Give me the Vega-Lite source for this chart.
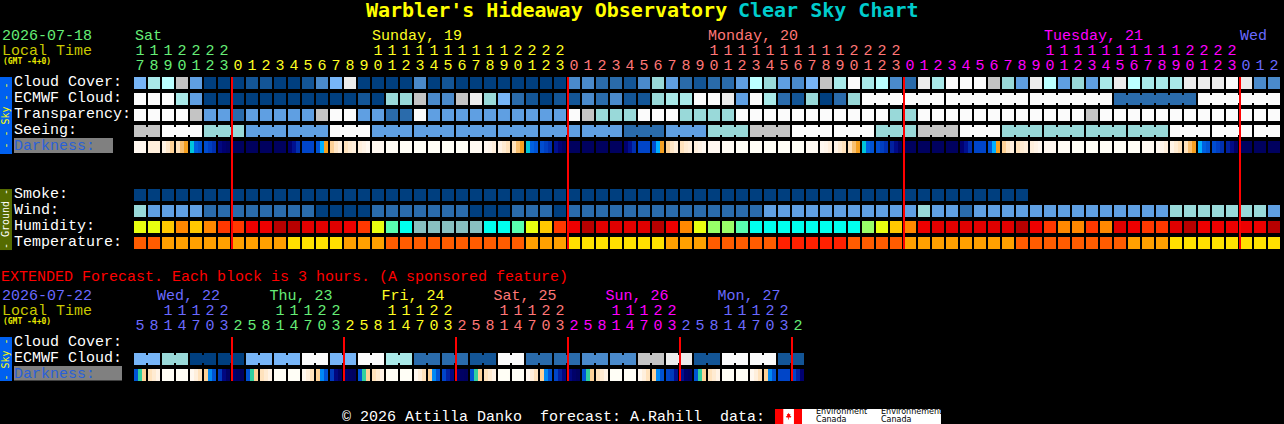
{"$schema":"https://vega.github.io/schema/vega-lite/v6.json","width":1284,"height":424,"padding":0,"autosize":{"type":"fit","contains":"padding"},"background":"#000000","config":{"view":{"stroke":null}},
"datasets":{
"panels":[{"a":-10,"b":-9.143,"r":-0.375,"r2":4.4375,"c":"sky"},{"a":-10,"b":-9.143,"r":6.625,"r2":10.44,"c":"ground"},{"a":-10,"b":-9.143,"r":15.875,"r2":18.625,"c":"sky"},{"a":-9,"b":-1.929,"r":3.4375,"r2":4.375,"c":"grey"},{"a":-9,"b":-1.286,"r":17.69,"r2":18.6,"c":"grey"},{"a":45.357,"b":57.214,"r":20.375,"r2":21.3125,"c":"paper"},{"a":45.357,"b":45.95,"r":20.375,"r2":21.3125,"c":"flag"},{"a":46.71,"b":47.286,"r":20.375,"r2":21.3125,"c":"flag"}],
"links":[{"a":0,"b":1,"r":3,"v":"J"},{"a":2,"b":4,"r":3,"v":"L"},{"a":5,"b":7,"r":3,"v":"G"},{"a":8,"b":10,"r":3,"v":"E"},{"a":11,"b":13,"r":3,"v":"E"},{"a":14,"b":16,"r":3,"v":"L"},{"a":17,"b":19,"r":3,"v":"E"},{"a":20,"b":22,"r":3,"v":"E"},{"a":23,"b":25,"r":3,"v":"E"},{"a":26,"b":28,"r":3,"v":"E"},{"a":29,"b":31,"r":3,"v":"E"},{"a":32,"b":34,"r":3,"v":"E"},{"a":35,"b":37,"r":3,"v":"C"},{"a":38,"b":40,"r":3,"v":"E"},{"a":41,"b":43,"r":3,"v":"G"},{"a":44,"b":46,"r":3,"v":"J"},{"a":47,"b":49,"r":3,"v":"L"},{"a":50,"b":52,"r":3,"v":"L"},{"a":53,"b":55,"r":3,"v":"G"},{"a":56,"b":58,"r":3,"v":"J"},{"a":59,"b":61,"r":3,"v":"L"},{"a":62,"b":64,"r":3,"v":"G"},{"a":65,"b":67,"r":3,"v":"G"},{"a":68,"b":70,"r":3,"v":"G"},{"a":71,"b":73,"r":3,"v":"G"},{"a":74,"b":76,"r":3,"v":"L"},{"a":77,"b":79,"r":3,"v":"L"},{"a":80,"b":81,"r":3,"v":"L"},{"a":52,"b":57,"r":1,"v":"L"},{"a":58,"b":63,"r":1,"v":"L"},{"a":64,"b":69,"r":1,"v":"L"},{"a":70,"b":75,"r":1,"v":"C"},{"a":76,"b":81,"r":1,"v":"L"},{"a":0,"b":1,"r":17.25,"v":"F"},{"a":2,"b":3,"r":17.25,"v":"G"},{"a":4,"b":5,"r":17.25,"v":"A"},{"a":6,"b":7,"r":17.25,"v":"A"},{"a":8,"b":9,"r":17.25,"v":"F"},{"a":10,"b":11,"r":17.25,"v":"F"},{"a":12,"b":13,"r":17.25,"v":"L"},{"a":14,"b":15,"r":17.25,"v":"F"},{"a":16,"b":17,"r":17.25,"v":"L"},{"a":18,"b":19,"r":17.25,"v":"H"},{"a":20,"b":21,"r":17.25,"v":"C"},{"a":22,"b":23,"r":17.25,"v":"C"},{"a":24,"b":25,"r":17.25,"v":"B"},{"a":26,"b":27,"r":17.25,"v":"L"},{"a":28,"b":29,"r":17.25,"v":"C"},{"a":30,"b":31,"r":17.25,"v":"C"},{"a":32,"b":33,"r":17.25,"v":"D"},{"a":34,"b":35,"r":17.25,"v":"D"},{"a":36,"b":37,"r":17.25,"v":"J"},{"a":38,"b":39,"r":17.25,"v":"K"},{"a":40,"b":41,"r":17.25,"v":"B"},{"a":42,"b":43,"r":17.25,"v":"L"},{"a":44,"b":45,"r":17.25,"v":"L"},{"a":46,"b":47,"r":17.25,"v":"B"}],
"blocks":[
{"s":0,"r":0,"v":"F"},{"s":1,"r":0,"v":"H"},{"s":2,"r":0,"v":"I"},{"s":3,"r":0,"v":"J"},{"s":4,"r":0,"v":"E"},{"s":5,"r":0,"v":"A"},{"s":6,"r":0,"v":"A"},{"s":7,"r":0,"v":"A"},{"s":8,"r":0,"v":"B"},{"s":9,"r":0,"v":"B"},{"s":10,"r":0,"v":"A"},{"s":11,"r":0,"v":"A"},{"s":12,"r":0,"v":"B"},{"s":13,"r":0,"v":"D"},{"s":14,"r":0,"v":"F"},{"s":15,"r":0,"v":"K"},{"s":16,"r":0,"v":"A"},{"s":17,"r":0,"v":"A"},{"s":18,"r":0,"v":"A"},{"s":19,"r":0,"v":"A"},{"s":20,"r":0,"v":"D"},{"s":21,"r":0,"v":"A"},{"s":22,"r":0,"v":"B"},{"s":23,"r":0,"v":"A"},{"s":24,"r":0,"v":"A"},{"s":25,"r":0,"v":"A"},{"s":26,"r":0,"v":"A"},{"s":27,"r":0,"v":"A"},{"s":28,"r":0,"v":"A"},{"s":29,"r":0,"v":"A"},{"s":30,"r":0,"v":"A"},{"s":31,"r":0,"v":"D"},{"s":32,"r":0,"v":"D"},{"s":33,"r":0,"v":"C"},{"s":34,"r":0,"v":"C"},{"s":35,"r":0,"v":"B"},{"s":36,"r":0,"v":"D"},{"s":37,"r":0,"v":"G"},{"s":38,"r":0,"v":"E"},{"s":39,"r":0,"v":"C"},{"s":40,"r":0,"v":"B"},{"s":41,"r":0,"v":"C"},{"s":42,"r":0,"v":"C"},{"s":43,"r":0,"v":"E"},{"s":44,"r":0,"v":"I"},{"s":45,"r":0,"v":"G"},{"s":46,"r":0,"v":"E"},{"s":47,"r":0,"v":"D"},{"s":48,"r":0,"v":"F"},{"s":49,"r":0,"v":"J"},{"s":50,"r":0,"v":"H"},{"s":51,"r":0,"v":"L"},{"s":52,"r":0,"v":"H"},{"s":53,"r":0,"v":"I"},{"s":54,"r":0,"v":"D"},{"s":55,"r":0,"v":"C"},{"s":56,"r":0,"v":"K"},{"s":57,"r":0,"v":"H"},{"s":58,"r":0,"v":"L"},{"s":59,"r":0,"v":"L"},{"s":60,"r":0,"v":"L"},{"s":61,"r":0,"v":"J"},{"s":62,"r":0,"v":"G"},{"s":63,"r":0,"v":"E"},{"s":64,"r":0,"v":"K"},{"s":65,"r":0,"v":"I"},{"s":66,"r":0,"v":"E"},{"s":67,"r":0,"v":"G"},{"s":68,"r":0,"v":"E"},{"s":69,"r":0,"v":"H"},{"s":70,"r":0,"v":"K"},{"s":71,"r":0,"v":"I"},{"s":72,"r":0,"v":"H"},{"s":73,"r":0,"v":"H"},{"s":74,"r":0,"v":"H"},{"s":75,"r":0,"v":"K"},{"s":76,"r":0,"v":"K"},{"s":77,"r":0,"v":"K"},{"s":78,"r":0,"v":"L"},{"s":79,"r":0,"v":"K"},{"s":80,"r":0,"v":"D"},{"s":81,"r":0,"v":"D"},
{"s":0,"r":1,"v":"L"},{"s":1,"r":1,"v":"L"},{"s":2,"r":1,"v":"L"},{"s":3,"r":1,"v":"H"},{"s":4,"r":1,"v":"E"},{"s":5,"r":1,"v":"A"},{"s":6,"r":1,"v":"A"},{"s":7,"r":1,"v":"A"},{"s":8,"r":1,"v":"A"},{"s":9,"r":1,"v":"A"},{"s":10,"r":1,"v":"A"},{"s":11,"r":1,"v":"A"},{"s":12,"r":1,"v":"A"},{"s":13,"r":1,"v":"A"},{"s":14,"r":1,"v":"A"},{"s":15,"r":1,"v":"A"},{"s":16,"r":1,"v":"B"},{"s":17,"r":1,"v":"A"},{"s":18,"r":1,"v":"G"},{"s":19,"r":1,"v":"G"},{"s":20,"r":1,"v":"J"},{"s":21,"r":1,"v":"D"},{"s":22,"r":1,"v":"D"},{"s":23,"r":1,"v":"J"},{"s":24,"r":1,"v":"K"},{"s":25,"r":1,"v":"G"},{"s":26,"r":1,"v":"F"},{"s":27,"r":1,"v":"C"},{"s":28,"r":1,"v":"B"},{"s":29,"r":1,"v":"A"},{"s":30,"r":1,"v":"B"},{"s":31,"r":1,"v":"B"},{"s":32,"r":1,"v":"D"},{"s":33,"r":1,"v":"C"},{"s":34,"r":1,"v":"D"},{"s":35,"r":1,"v":"B"},{"s":36,"r":1,"v":"B"},{"s":37,"r":1,"v":"G"},{"s":38,"r":1,"v":"H"},{"s":39,"r":1,"v":"H"},{"s":40,"r":1,"v":"L"},{"s":41,"r":1,"v":"L"},{"s":42,"r":1,"v":"K"},{"s":43,"r":1,"v":"E"},{"s":44,"r":1,"v":"L"},{"s":45,"r":1,"v":"H"},{"s":46,"r":1,"v":"C"},{"s":47,"r":1,"v":"B"},{"s":48,"r":1,"v":"G"},{"s":49,"r":1,"v":"A"},{"s":50,"r":1,"v":"C"},{"s":51,"r":1,"v":"G"},{"s":52,"r":1,"v":"L"},{"s":53,"r":1,"v":"L"},{"s":54,"r":1,"v":"L"},{"s":55,"r":1,"v":"L"},{"s":56,"r":1,"v":"L"},{"s":57,"r":1,"v":"L"},{"s":58,"r":1,"v":"L"},{"s":59,"r":1,"v":"L"},{"s":60,"r":1,"v":"L"},{"s":61,"r":1,"v":"L"},{"s":62,"r":1,"v":"L"},{"s":63,"r":1,"v":"L"},{"s":64,"r":1,"v":"L"},{"s":65,"r":1,"v":"L"},{"s":66,"r":1,"v":"L"},{"s":67,"r":1,"v":"L"},{"s":68,"r":1,"v":"L"},{"s":69,"r":1,"v":"L"},{"s":70,"r":1,"v":"C"},{"s":71,"r":1,"v":"C"},{"s":72,"r":1,"v":"C"},{"s":73,"r":1,"v":"C"},{"s":74,"r":1,"v":"C"},{"s":75,"r":1,"v":"C"},{"s":76,"r":1,"v":"L"},{"s":77,"r":1,"v":"L"},{"s":78,"r":1,"v":"L"},{"s":79,"r":1,"v":"L"},{"s":80,"r":1,"v":"L"},{"s":81,"r":1,"v":"L"},
{"s":0,"r":2,"v":"L"},{"s":1,"r":2,"v":"L"},{"s":2,"r":2,"v":"L"},{"s":3,"r":2,"v":"L"},{"s":4,"r":2,"v":"J"},{"s":5,"r":2,"v":"E"},{"s":6,"r":2,"v":"E"},{"s":7,"r":2,"v":"C"},{"s":8,"r":2,"v":"E"},{"s":9,"r":2,"v":"E"},{"s":10,"r":2,"v":"E"},{"s":11,"r":2,"v":"E"},{"s":12,"r":2,"v":"E"},{"s":13,"r":2,"v":"J"},{"s":14,"r":2,"v":"L"},{"s":15,"r":2,"v":"L"},{"s":16,"r":2,"v":"E"},{"s":17,"r":2,"v":"E"},{"s":18,"r":2,"v":"C"},{"s":19,"r":2,"v":"C"},{"s":20,"r":2,"v":"L"},{"s":21,"r":2,"v":"E"},{"s":22,"r":2,"v":"E"},{"s":23,"r":2,"v":"E"},{"s":24,"r":2,"v":"E"},{"s":25,"r":2,"v":"E"},{"s":26,"r":2,"v":"E"},{"s":27,"r":2,"v":"E"},{"s":28,"r":2,"v":"E"},{"s":29,"r":2,"v":"E"},{"s":30,"r":2,"v":"E"},{"s":31,"r":2,"v":"L"},{"s":32,"r":2,"v":"J"},{"s":33,"r":2,"v":"G"},{"s":34,"r":2,"v":"G"},{"s":35,"r":2,"v":"G"},{"s":36,"r":2,"v":"L"},{"s":37,"r":2,"v":"L"},{"s":38,"r":2,"v":"L"},{"s":39,"r":2,"v":"G"},{"s":40,"r":2,"v":"G"},{"s":41,"r":2,"v":"G"},{"s":42,"r":2,"v":"G"},{"s":43,"r":2,"v":"L"},{"s":44,"r":2,"v":"L"},{"s":45,"r":2,"v":"L"},{"s":46,"r":2,"v":"L"},{"s":47,"r":2,"v":"L"},{"s":48,"r":2,"v":"L"},{"s":49,"r":2,"v":"L"},{"s":50,"r":2,"v":"L"},{"s":51,"r":2,"v":"L"},{"s":52,"r":2,"v":"L"},{"s":53,"r":2,"v":"L"},{"s":54,"r":2,"v":"G"},{"s":55,"r":2,"v":"G"},{"s":56,"r":2,"v":"L"},{"s":57,"r":2,"v":"L"},{"s":58,"r":2,"v":"L"},{"s":59,"r":2,"v":"L"},{"s":60,"r":2,"v":"L"},{"s":61,"r":2,"v":"L"},{"s":62,"r":2,"v":"L"},{"s":63,"r":2,"v":"L"},{"s":64,"r":2,"v":"L"},{"s":65,"r":2,"v":"L"},{"s":66,"r":2,"v":"L"},{"s":67,"r":2,"v":"L"},{"s":68,"r":2,"v":"J"},{"s":69,"r":2,"v":"L"},{"s":70,"r":2,"v":"L"},{"s":71,"r":2,"v":"L"},{"s":72,"r":2,"v":"L"},{"s":73,"r":2,"v":"L"},{"s":74,"r":2,"v":"L"},{"s":75,"r":2,"v":"L"},{"s":76,"r":2,"v":"L"},{"s":77,"r":2,"v":"L"},{"s":78,"r":2,"v":"L"},{"s":79,"r":2,"v":"L"},{"s":80,"r":2,"v":"L"},{"s":81,"r":2,"v":"L"},
{"s":0,"r":3,"v":"J"},{"s":1,"r":3,"v":"J"},{"s":2,"r":3,"v":"L"},{"s":3,"r":3,"v":"L"},{"s":4,"r":3,"v":"L"},{"s":5,"r":3,"v":"G"},{"s":6,"r":3,"v":"G"},{"s":7,"r":3,"v":"G"},{"s":8,"r":3,"v":"E"},{"s":9,"r":3,"v":"E"},{"s":10,"r":3,"v":"E"},{"s":11,"r":3,"v":"E"},{"s":12,"r":3,"v":"E"},{"s":13,"r":3,"v":"E"},{"s":14,"r":3,"v":"L"},{"s":15,"r":3,"v":"L"},{"s":16,"r":3,"v":"L"},{"s":17,"r":3,"v":"E"},{"s":18,"r":3,"v":"E"},{"s":19,"r":3,"v":"E"},{"s":20,"r":3,"v":"E"},{"s":21,"r":3,"v":"E"},{"s":22,"r":3,"v":"E"},{"s":23,"r":3,"v":"E"},{"s":24,"r":3,"v":"E"},{"s":25,"r":3,"v":"E"},{"s":26,"r":3,"v":"E"},{"s":27,"r":3,"v":"E"},{"s":28,"r":3,"v":"E"},{"s":29,"r":3,"v":"E"},{"s":30,"r":3,"v":"E"},{"s":31,"r":3,"v":"E"},{"s":32,"r":3,"v":"E"},{"s":33,"r":3,"v":"E"},{"s":34,"r":3,"v":"E"},{"s":35,"r":3,"v":"C"},{"s":36,"r":3,"v":"C"},{"s":37,"r":3,"v":"C"},{"s":38,"r":3,"v":"E"},{"s":39,"r":3,"v":"E"},{"s":40,"r":3,"v":"E"},{"s":41,"r":3,"v":"G"},{"s":42,"r":3,"v":"G"},{"s":43,"r":3,"v":"G"},{"s":44,"r":3,"v":"J"},{"s":45,"r":3,"v":"J"},{"s":46,"r":3,"v":"J"},{"s":47,"r":3,"v":"L"},{"s":48,"r":3,"v":"L"},{"s":49,"r":3,"v":"L"},{"s":50,"r":3,"v":"L"},{"s":51,"r":3,"v":"L"},{"s":52,"r":3,"v":"L"},{"s":53,"r":3,"v":"G"},{"s":54,"r":3,"v":"G"},{"s":55,"r":3,"v":"G"},{"s":56,"r":3,"v":"J"},{"s":57,"r":3,"v":"J"},{"s":58,"r":3,"v":"J"},{"s":59,"r":3,"v":"L"},{"s":60,"r":3,"v":"L"},{"s":61,"r":3,"v":"L"},{"s":62,"r":3,"v":"G"},{"s":63,"r":3,"v":"G"},{"s":64,"r":3,"v":"G"},{"s":65,"r":3,"v":"G"},{"s":66,"r":3,"v":"G"},{"s":67,"r":3,"v":"G"},{"s":68,"r":3,"v":"G"},{"s":69,"r":3,"v":"G"},{"s":70,"r":3,"v":"G"},{"s":71,"r":3,"v":"G"},{"s":72,"r":3,"v":"G"},{"s":73,"r":3,"v":"G"},{"s":74,"r":3,"v":"L"},{"s":75,"r":3,"v":"L"},{"s":76,"r":3,"v":"L"},{"s":77,"r":3,"v":"L"},{"s":78,"r":3,"v":"L"},{"s":79,"r":3,"v":"L"},{"s":80,"r":3,"v":"L"},{"s":81,"r":3,"v":"L"},
{"s":0,"r":7,"v":"A"},{"s":1,"r":7,"v":"A"},{"s":2,"r":7,"v":"A"},{"s":3,"r":7,"v":"A"},{"s":4,"r":7,"v":"A"},{"s":5,"r":7,"v":"A"},{"s":6,"r":7,"v":"A"},{"s":7,"r":7,"v":"A"},{"s":8,"r":7,"v":"A"},{"s":9,"r":7,"v":"A"},{"s":10,"r":7,"v":"A"},{"s":11,"r":7,"v":"A"},{"s":12,"r":7,"v":"A"},{"s":13,"r":7,"v":"A"},{"s":14,"r":7,"v":"A"},{"s":15,"r":7,"v":"A"},{"s":16,"r":7,"v":"A"},{"s":17,"r":7,"v":"A"},{"s":18,"r":7,"v":"A"},{"s":19,"r":7,"v":"A"},{"s":20,"r":7,"v":"A"},{"s":21,"r":7,"v":"A"},{"s":22,"r":7,"v":"A"},{"s":23,"r":7,"v":"A"},{"s":24,"r":7,"v":"A"},{"s":25,"r":7,"v":"A"},{"s":26,"r":7,"v":"A"},{"s":27,"r":7,"v":"A"},{"s":28,"r":7,"v":"A"},{"s":29,"r":7,"v":"A"},{"s":30,"r":7,"v":"A"},{"s":31,"r":7,"v":"A"},{"s":32,"r":7,"v":"A"},{"s":33,"r":7,"v":"A"},{"s":34,"r":7,"v":"A"},{"s":35,"r":7,"v":"A"},{"s":36,"r":7,"v":"A"},{"s":37,"r":7,"v":"A"},{"s":38,"r":7,"v":"A"},{"s":39,"r":7,"v":"A"},{"s":40,"r":7,"v":"A"},{"s":41,"r":7,"v":"A"},{"s":42,"r":7,"v":"A"},{"s":43,"r":7,"v":"A"},{"s":44,"r":7,"v":"A"},{"s":45,"r":7,"v":"A"},{"s":46,"r":7,"v":"A"},{"s":47,"r":7,"v":"A"},{"s":48,"r":7,"v":"A"},{"s":49,"r":7,"v":"A"},{"s":50,"r":7,"v":"A"},{"s":51,"r":7,"v":"A"},{"s":52,"r":7,"v":"A"},{"s":53,"r":7,"v":"A"},{"s":54,"r":7,"v":"A"},{"s":55,"r":7,"v":"A"},{"s":56,"r":7,"v":"A"},{"s":57,"r":7,"v":"A"},{"s":58,"r":7,"v":"A"},{"s":59,"r":7,"v":"A"},{"s":60,"r":7,"v":"A"},{"s":61,"r":7,"v":"A"},{"s":62,"r":7,"v":"A"},{"s":63,"r":7,"v":"A"},
{"s":0,"r":8,"v":"G"},{"s":1,"r":8,"v":"E"},{"s":2,"r":8,"v":"E"},{"s":3,"r":8,"v":"E"},{"s":4,"r":8,"v":"E"},{"s":5,"r":8,"v":"C"},{"s":6,"r":8,"v":"C"},{"s":7,"r":8,"v":"C"},{"s":8,"r":8,"v":"C"},{"s":9,"r":8,"v":"C"},{"s":10,"r":8,"v":"C"},{"s":11,"r":8,"v":"C"},{"s":12,"r":8,"v":"C"},{"s":13,"r":8,"v":"A"},{"s":14,"r":8,"v":"A"},{"s":15,"r":8,"v":"A"},{"s":16,"r":8,"v":"A"},{"s":17,"r":8,"v":"C"},{"s":18,"r":8,"v":"C"},{"s":19,"r":8,"v":"C"},{"s":20,"r":8,"v":"C"},{"s":21,"r":8,"v":"C"},{"s":22,"r":8,"v":"C"},{"s":23,"r":8,"v":"C"},{"s":24,"r":8,"v":"A"},{"s":25,"r":8,"v":"A"},{"s":26,"r":8,"v":"A"},{"s":27,"r":8,"v":"C"},{"s":28,"r":8,"v":"C"},{"s":29,"r":8,"v":"C"},{"s":30,"r":8,"v":"A"},{"s":31,"r":8,"v":"C"},{"s":32,"r":8,"v":"C"},{"s":33,"r":8,"v":"C"},{"s":34,"r":8,"v":"C"},{"s":35,"r":8,"v":"C"},{"s":36,"r":8,"v":"C"},{"s":37,"r":8,"v":"C"},{"s":38,"r":8,"v":"C"},{"s":39,"r":8,"v":"C"},{"s":40,"r":8,"v":"C"},{"s":41,"r":8,"v":"C"},{"s":42,"r":8,"v":"C"},{"s":43,"r":8,"v":"C"},{"s":44,"r":8,"v":"C"},{"s":45,"r":8,"v":"E"},{"s":46,"r":8,"v":"E"},{"s":47,"r":8,"v":"E"},{"s":48,"r":8,"v":"E"},{"s":49,"r":8,"v":"E"},{"s":50,"r":8,"v":"E"},{"s":51,"r":8,"v":"E"},{"s":52,"r":8,"v":"E"},{"s":53,"r":8,"v":"E"},{"s":54,"r":8,"v":"E"},{"s":55,"r":8,"v":"E"},{"s":56,"r":8,"v":"G"},{"s":57,"r":8,"v":"E"},{"s":58,"r":8,"v":"E"},{"s":59,"r":8,"v":"C"},{"s":60,"r":8,"v":"E"},{"s":61,"r":8,"v":"E"},{"s":62,"r":8,"v":"E"},{"s":63,"r":8,"v":"E"},{"s":64,"r":8,"v":"E"},{"s":65,"r":8,"v":"E"},{"s":66,"r":8,"v":"E"},{"s":67,"r":8,"v":"E"},{"s":68,"r":8,"v":"E"},{"s":69,"r":8,"v":"E"},{"s":70,"r":8,"v":"E"},{"s":71,"r":8,"v":"E"},{"s":72,"r":8,"v":"E"},{"s":73,"r":8,"v":"E"},{"s":74,"r":8,"v":"G"},{"s":75,"r":8,"v":"G"},{"s":76,"r":8,"v":"G"},{"s":77,"r":8,"v":"G"},{"s":78,"r":8,"v":"G"},{"s":79,"r":8,"v":"G"},{"s":80,"r":8,"v":"G"},{"s":81,"r":8,"v":"E"},
{"s":0,"r":9,"v":"yl"},{"s":1,"r":9,"v":"yl"},{"s":2,"r":9,"v":"gd"},{"s":3,"r":9,"v":"or"},{"s":4,"r":9,"v":"gd"},{"s":5,"r":9,"v":"or"},{"s":6,"r":9,"v":"ro"},{"s":7,"r":9,"v":"ro"},{"s":8,"r":9,"v":"r1"},{"s":9,"r":9,"v":"r1"},{"s":10,"r":9,"v":"dr"},{"s":11,"r":9,"v":"dr"},{"s":12,"r":9,"v":"r2"},{"s":13,"r":9,"v":"r2"},{"s":14,"r":9,"v":"r2"},{"s":15,"r":9,"v":"r1"},{"s":16,"r":9,"v":"ro"},{"s":17,"r":9,"v":"yl"},{"s":18,"r":9,"v":"mg"},{"s":19,"r":9,"v":"cy"},{"s":20,"r":9,"v":"gt"},{"s":21,"r":9,"v":"gt"},{"s":22,"r":9,"v":"gt"},{"s":23,"r":9,"v":"gt"},{"s":24,"r":9,"v":"gt"},{"s":25,"r":9,"v":"cy"},{"s":26,"r":9,"v":"cy"},{"s":27,"r":9,"v":"mg"},{"s":28,"r":9,"v":"yl"},{"s":29,"r":9,"v":"gd"},{"s":30,"r":9,"v":"ro"},{"s":31,"r":9,"v":"r1"},{"s":32,"r":9,"v":"dr"},{"s":33,"r":9,"v":"r2"},{"s":34,"r":9,"v":"r2"},{"s":35,"r":9,"v":"r2"},{"s":36,"r":9,"v":"r2"},{"s":37,"r":9,"v":"dr"},{"s":38,"r":9,"v":"r1"},{"s":39,"r":9,"v":"or"},{"s":40,"r":9,"v":"yl"},{"s":41,"r":9,"v":"lg"},{"s":42,"r":9,"v":"lg"},{"s":43,"r":9,"v":"mg"},{"s":44,"r":9,"v":"cy"},{"s":45,"r":9,"v":"cy"},{"s":46,"r":9,"v":"cy"},{"s":47,"r":9,"v":"cy"},{"s":48,"r":9,"v":"cy"},{"s":49,"r":9,"v":"cy"},{"s":50,"r":9,"v":"cy"},{"s":51,"r":9,"v":"cy"},{"s":52,"r":9,"v":"lg"},{"s":53,"r":9,"v":"yl"},{"s":54,"r":9,"v":"gd"},{"s":55,"r":9,"v":"or"},{"s":56,"r":9,"v":"r1"},{"s":57,"r":9,"v":"r2"},{"s":58,"r":9,"v":"r2"},{"s":59,"r":9,"v":"r2"},{"s":60,"r":9,"v":"r2"},{"s":61,"r":9,"v":"r2"},{"s":62,"r":9,"v":"r2"},{"s":63,"r":9,"v":"dr"},{"s":64,"r":9,"v":"r1"},{"s":65,"r":9,"v":"ro"},{"s":66,"r":9,"v":"or"},{"s":67,"r":9,"v":"or"},{"s":68,"r":9,"v":"ro"},{"s":69,"r":9,"v":"or"},{"s":70,"r":9,"v":"r2"},{"s":71,"r":9,"v":"r1"},{"s":72,"r":9,"v":"ro"},{"s":73,"r":9,"v":"ro"},{"s":74,"r":9,"v":"r2"},{"s":75,"r":9,"v":"dr"},{"s":76,"r":9,"v":"r1"},{"s":77,"r":9,"v":"r1"},{"s":78,"r":9,"v":"r1"},{"s":79,"r":9,"v":"r1"},{"s":80,"r":9,"v":"r1"},{"s":81,"r":9,"v":"dr"},
{"s":0,"r":10,"v":"t1"},{"s":1,"r":10,"v":"t1"},{"s":2,"r":10,"v":"t2"},{"s":3,"r":10,"v":"t2"},{"s":4,"r":10,"v":"t2"},{"s":5,"r":10,"v":"t2"},{"s":6,"r":10,"v":"t2"},{"s":7,"r":10,"v":"t2"},{"s":8,"r":10,"v":"t2"},{"s":9,"r":10,"v":"t2"},{"s":10,"r":10,"v":"t2"},{"s":11,"r":10,"v":"t3"},{"s":12,"r":10,"v":"t3"},{"s":13,"r":10,"v":"t3"},{"s":14,"r":10,"v":"t3"},{"s":15,"r":10,"v":"t2"},{"s":16,"r":10,"v":"t2"},{"s":17,"r":10,"v":"t2"},{"s":18,"r":10,"v":"t1"},{"s":19,"r":10,"v":"t1"},{"s":20,"r":10,"v":"t1"},{"s":21,"r":10,"v":"t1"},{"s":22,"r":10,"v":"t1"},{"s":23,"r":10,"v":"t1"},{"s":24,"r":10,"v":"t1"},{"s":25,"r":10,"v":"t1"},{"s":26,"r":10,"v":"t1"},{"s":27,"r":10,"v":"t1"},{"s":28,"r":10,"v":"t2"},{"s":29,"r":10,"v":"t2"},{"s":30,"r":10,"v":"t2"},{"s":31,"r":10,"v":"t3"},{"s":32,"r":10,"v":"t3"},{"s":33,"r":10,"v":"t3"},{"s":34,"r":10,"v":"t3"},{"s":35,"r":10,"v":"t3"},{"s":36,"r":10,"v":"t3"},{"s":37,"r":10,"v":"t3"},{"s":38,"r":10,"v":"t2"},{"s":39,"r":10,"v":"t2"},{"s":40,"r":10,"v":"t2"},{"s":41,"r":10,"v":"t1"},{"s":42,"r":10,"v":"t1"},{"s":43,"r":10,"v":"t1"},{"s":44,"r":10,"v":"t1"},{"s":45,"r":10,"v":"t1"},{"s":46,"r":10,"v":"t0"},{"s":47,"r":10,"v":"t0"},{"s":48,"r":10,"v":"t0"},{"s":49,"r":10,"v":"t0"},{"s":50,"r":10,"v":"t0"},{"s":51,"r":10,"v":"t1"},{"s":52,"r":10,"v":"t1"},{"s":53,"r":10,"v":"t1"},{"s":54,"r":10,"v":"t1"},{"s":55,"r":10,"v":"t2"},{"s":56,"r":10,"v":"t2"},{"s":57,"r":10,"v":"t2"},{"s":58,"r":10,"v":"t2"},{"s":59,"r":10,"v":"t2"},{"s":60,"r":10,"v":"t2"},{"s":61,"r":10,"v":"t2"},{"s":62,"r":10,"v":"t2"},{"s":63,"r":10,"v":"t1"},{"s":64,"r":10,"v":"t1"},{"s":65,"r":10,"v":"t1"},{"s":66,"r":10,"v":"t1"},{"s":67,"r":10,"v":"t1"},{"s":68,"r":10,"v":"t1"},{"s":69,"r":10,"v":"t1"},{"s":70,"r":10,"v":"t1"},{"s":71,"r":10,"v":"t2"},{"s":72,"r":10,"v":"t2"},{"s":73,"r":10,"v":"t2"},{"s":74,"r":10,"v":"t3"},{"s":75,"r":10,"v":"t3"},{"s":76,"r":10,"v":"t3"},{"s":77,"r":10,"v":"t3"},{"s":78,"r":10,"v":"t3"},{"s":79,"r":10,"v":"t3"},{"s":80,"r":10,"v":"t3"},{"s":81,"r":10,"v":"t3"},
{"s":0,"r":17.25,"v":"F"},{"s":1,"r":17.25,"v":"F"},{"s":2,"r":17.25,"v":"G"},{"s":3,"r":17.25,"v":"G"},{"s":4,"r":17.25,"v":"A"},{"s":5,"r":17.25,"v":"A"},{"s":6,"r":17.25,"v":"A"},{"s":7,"r":17.25,"v":"A"},{"s":8,"r":17.25,"v":"F"},{"s":9,"r":17.25,"v":"F"},{"s":10,"r":17.25,"v":"F"},{"s":11,"r":17.25,"v":"F"},{"s":12,"r":17.25,"v":"L"},{"s":13,"r":17.25,"v":"L"},{"s":14,"r":17.25,"v":"F"},{"s":15,"r":17.25,"v":"F"},{"s":16,"r":17.25,"v":"L"},{"s":17,"r":17.25,"v":"L"},{"s":18,"r":17.25,"v":"H"},{"s":19,"r":17.25,"v":"H"},{"s":20,"r":17.25,"v":"C"},{"s":21,"r":17.25,"v":"C"},{"s":22,"r":17.25,"v":"C"},{"s":23,"r":17.25,"v":"C"},{"s":24,"r":17.25,"v":"B"},{"s":25,"r":17.25,"v":"B"},{"s":26,"r":17.25,"v":"L"},{"s":27,"r":17.25,"v":"L"},{"s":28,"r":17.25,"v":"C"},{"s":29,"r":17.25,"v":"C"},{"s":30,"r":17.25,"v":"C"},{"s":31,"r":17.25,"v":"C"},{"s":32,"r":17.25,"v":"D"},{"s":33,"r":17.25,"v":"D"},{"s":34,"r":17.25,"v":"D"},{"s":35,"r":17.25,"v":"D"},{"s":36,"r":17.25,"v":"J"},{"s":37,"r":17.25,"v":"J"},{"s":38,"r":17.25,"v":"K"},{"s":39,"r":17.25,"v":"K"},{"s":40,"r":17.25,"v":"B"},{"s":41,"r":17.25,"v":"B"},{"s":42,"r":17.25,"v":"L"},{"s":43,"r":17.25,"v":"L"},{"s":44,"r":17.25,"v":"L"},{"s":45,"r":17.25,"v":"L"},{"s":46,"r":17.25,"v":"B"},{"s":47,"r":17.25,"v":"B"}
],
"darkFlat":[{"s":0,"r":4,"d":1},{"s":1,"r":4,"d":2},{"s":7,"r":4,"d":12.7},{"s":8,"r":4,"d":12.7},{"s":9,"r":4,"d":12.7},{"s":10,"r":4,"d":12.7},{"s":12,"r":4,"d":9},{"s":17,"r":4,"d":1},{"s":18,"r":4,"d":0.4},{"s":19,"r":4,"d":0},{"s":20,"r":4,"d":0},{"s":21,"r":4,"d":0},{"s":22,"r":4,"d":0},{"s":23,"r":4,"d":0},{"s":24,"r":4,"d":0.7},{"s":31,"r":4,"d":12.7},{"s":32,"r":4,"d":12.7},{"s":33,"r":4,"d":12.7},{"s":34,"r":4,"d":12.7},{"s":36,"r":4,"d":9},{"s":41,"r":4,"d":1},{"s":42,"r":4,"d":0.4},{"s":43,"r":4,"d":0},{"s":44,"r":4,"d":0},{"s":45,"r":4,"d":0},{"s":46,"r":4,"d":0},{"s":47,"r":4,"d":0},{"s":48,"r":4,"d":0.7},{"s":55,"r":4,"d":12.7},{"s":56,"r":4,"d":12.7},{"s":57,"r":4,"d":12.7},{"s":58,"r":4,"d":12.7},{"s":60,"r":4,"d":9},{"s":65,"r":4,"d":1},{"s":66,"r":4,"d":0.4},{"s":67,"r":4,"d":0},{"s":68,"r":4,"d":0},{"s":69,"r":4,"d":0},{"s":70,"r":4,"d":0},{"s":71,"r":4,"d":0},{"s":72,"r":4,"d":0.7},{"s":79,"r":4,"d":12.7},{"s":80,"r":4,"d":12.7},{"s":81,"r":4,"d":12.7},{"s":2,"r":18.25,"d":0},{"s":3,"r":18.25,"d":0},{"s":10,"r":18.25,"d":0},{"s":11,"r":18.25,"d":0},{"s":18,"r":18.25,"d":0},{"s":19,"r":18.25,"d":0},{"s":26,"r":18.25,"d":0},{"s":27,"r":18.25,"d":0},{"s":34,"r":18.25,"d":0},{"s":35,"r":18.25,"d":0},{"s":42,"r":18.25,"d":0},{"s":43,"r":18.25,"d":0},{"s":46,"r":18.25,"d":9}],
"darkSlice":[
{"s":1.714,"r":4,"d":1.5},{"s":2,"r":4,"d":2.5},{"s":2.286,"r":4,"d":3.5},{"s":2.714,"r":4,"d":3},{"s":3,"r":4,"d":4},{"s":3.286,"r":4,"d":5},{"s":3.714,"r":4,"d":6.5},{"s":4,"r":4,"d":8},{"s":4.286,"r":4,"d":8.5},{"s":4.714,"r":4,"d":8.7},{"s":5,"r":4,"d":9.3},{"s":5.286,"r":4,"d":10},{"s":5.714,"r":4,"d":11.5},{"s":6,"r":4,"d":12},{"s":6.286,"r":4,"d":12.5},{"s":10.714,"r":4,"d":12},{"s":11,"r":4,"d":11},{"s":11.286,"r":4,"d":10},{"s":12.714,"r":4,"d":8.5},{"s":13,"r":4,"d":7},{"s":13.286,"r":4,"d":5},{"s":13.714,"r":4,"d":3.5},{"s":14,"r":4,"d":2.7},{"s":14.286,"r":4,"d":2},{"s":14.714,"r":4,"d":3},{"s":15,"r":4,"d":2.3},{"s":15.286,"r":4,"d":2},{"s":15.714,"r":4,"d":2},{"s":16,"r":4,"d":1.5},{"s":16.286,"r":4,"d":1},
{"s":24.714,"r":4,"d":1},{"s":25,"r":4,"d":1.3},{"s":25.286,"r":4,"d":2},{"s":25.714,"r":4,"d":1.5},{"s":26,"r":4,"d":2.3},{"s":26.286,"r":4,"d":3},{"s":26.714,"r":4,"d":3},{"s":27,"r":4,"d":4},{"s":27.286,"r":4,"d":5},{"s":27.714,"r":4,"d":6.5},{"s":28,"r":4,"d":8},{"s":28.286,"r":4,"d":8.5},{"s":28.714,"r":4,"d":8.7},{"s":29,"r":4,"d":9.3},{"s":29.286,"r":4,"d":10},{"s":29.714,"r":4,"d":11},{"s":30,"r":4,"d":11.8},{"s":30.286,"r":4,"d":12.5},{"s":34.714,"r":4,"d":12},{"s":35,"r":4,"d":11},{"s":35.286,"r":4,"d":10},{"s":36.714,"r":4,"d":8.7},{"s":37,"r":4,"d":7},{"s":37.286,"r":4,"d":5},{"s":37.714,"r":4,"d":3.5},{"s":38,"r":4,"d":2.7},{"s":38.286,"r":4,"d":2},{"s":38.714,"r":4,"d":3},{"s":39,"r":4,"d":2.3},{"s":39.286,"r":4,"d":2},{"s":39.714,"r":4,"d":2},{"s":40,"r":4,"d":1.5},{"s":40.286,"r":4,"d":1},
{"s":48.714,"r":4,"d":1},{"s":49,"r":4,"d":1.3},{"s":49.286,"r":4,"d":2},{"s":49.714,"r":4,"d":1.5},{"s":50,"r":4,"d":2.3},{"s":50.286,"r":4,"d":3},{"s":50.714,"r":4,"d":3},{"s":51,"r":4,"d":4},{"s":51.286,"r":4,"d":5},{"s":51.714,"r":4,"d":6.5},{"s":52,"r":4,"d":8},{"s":52.286,"r":4,"d":8.5},{"s":52.714,"r":4,"d":8.7},{"s":53,"r":4,"d":9.3},{"s":53.286,"r":4,"d":10},{"s":53.714,"r":4,"d":10.5},{"s":54,"r":4,"d":11.3},{"s":54.286,"r":4,"d":12.5},{"s":58.714,"r":4,"d":12},{"s":59,"r":4,"d":11},{"s":59.286,"r":4,"d":10},{"s":60.714,"r":4,"d":8.5},{"s":61,"r":4,"d":7},{"s":61.286,"r":4,"d":5},{"s":61.714,"r":4,"d":3.5},{"s":62,"r":4,"d":2.7},{"s":62.286,"r":4,"d":2},{"s":62.714,"r":4,"d":3},{"s":63,"r":4,"d":2.3},{"s":63.286,"r":4,"d":2},{"s":63.714,"r":4,"d":2},{"s":64,"r":4,"d":1.5},{"s":64.286,"r":4,"d":1},
{"s":72.714,"r":4,"d":1},{"s":73,"r":4,"d":1.3},{"s":73.286,"r":4,"d":2},{"s":73.714,"r":4,"d":1.5},{"s":74,"r":4,"d":2.3},{"s":74.286,"r":4,"d":3},{"s":74.714,"r":4,"d":3},{"s":75,"r":4,"d":4},{"s":75.286,"r":4,"d":5},{"s":75.714,"r":4,"d":7},{"s":76,"r":4,"d":8},{"s":76.286,"r":4,"d":8.5},{"s":76.714,"r":4,"d":8.7},{"s":77,"r":4,"d":9.3},{"s":77.286,"r":4,"d":10},{"s":77.714,"r":4,"d":10.5},{"s":78,"r":4,"d":11.3},{"s":78.286,"r":4,"d":12.5},
{"s":-0.286,"r":18.25,"d":8.5},{"s":0,"r":18.25,"d":6},{"s":0.286,"r":18.25,"d":3.5},{"s":0.714,"r":18.25,"d":3},{"s":1,"r":18.25,"d":2.3},{"s":1.286,"r":18.25,"d":1.5},{"s":3.714,"r":18.25,"d":1},{"s":4,"r":18.25,"d":2},{"s":4.286,"r":18.25,"d":3},{"s":4.714,"r":18.25,"d":3.5},{"s":5,"r":18.25,"d":7.5},{"s":5.286,"r":18.25,"d":8.5},{"s":5.714,"r":18.25,"d":9.5},{"s":6,"r":18.25,"d":11.5},{"s":6.286,"r":18.25,"d":12.5},{"s":6.714,"r":18.25,"d":12},{"s":7,"r":18.25,"d":12.5},{"s":7.286,"r":18.25,"d":12.7},{"s":7.714,"r":18.25,"d":8.5},{"s":8,"r":18.25,"d":6},{"s":8.286,"r":18.25,"d":3.5},{"s":8.714,"r":18.25,"d":3},{"s":9,"r":18.25,"d":2.3},{"s":9.286,"r":18.25,"d":1.5},{"s":11.714,"r":18.25,"d":1},{"s":12,"r":18.25,"d":2},{"s":12.286,"r":18.25,"d":3},{"s":12.714,"r":18.25,"d":3.5},{"s":13,"r":18.25,"d":7.5},{"s":13.286,"r":18.25,"d":8.5},{"s":13.714,"r":18.25,"d":9.5},{"s":14,"r":18.25,"d":11.5},{"s":14.286,"r":18.25,"d":12.5},{"s":14.714,"r":18.25,"d":12},{"s":15,"r":18.25,"d":12.5},{"s":15.286,"r":18.25,"d":12.7},{"s":15.714,"r":18.25,"d":8.5},{"s":16,"r":18.25,"d":6},{"s":16.286,"r":18.25,"d":3.5},{"s":16.714,"r":18.25,"d":3},{"s":17,"r":18.25,"d":2.3},{"s":17.286,"r":18.25,"d":1.5},{"s":19.714,"r":18.25,"d":1},{"s":20,"r":18.25,"d":2},{"s":20.286,"r":18.25,"d":3},{"s":20.714,"r":18.25,"d":3.5},{"s":21,"r":18.25,"d":7.5},{"s":21.286,"r":18.25,"d":8.5},{"s":21.714,"r":18.25,"d":9},{"s":22,"r":18.25,"d":10.5},{"s":22.286,"r":18.25,"d":11.5},{"s":22.714,"r":18.25,"d":12},{"s":23,"r":18.25,"d":12.5},{"s":23.286,"r":18.25,"d":12.7},{"s":23.714,"r":18.25,"d":8.5},{"s":24,"r":18.25,"d":6},{"s":24.286,"r":18.25,"d":3.5},{"s":24.714,"r":18.25,"d":3},{"s":25,"r":18.25,"d":2.3},{"s":25.286,"r":18.25,"d":1.5},{"s":27.714,"r":18.25,"d":1},{"s":28,"r":18.25,"d":2},{"s":28.286,"r":18.25,"d":3},{"s":28.714,"r":18.25,"d":3.5},{"s":29,"r":18.25,"d":7.5},{"s":29.286,"r":18.25,"d":8.5},{"s":29.714,"r":18.25,"d":9},{"s":30,"r":18.25,"d":10.5},{"s":30.286,"r":18.25,"d":11.5},{"s":30.714,"r":18.25,"d":11.5},{"s":31,"r":18.25,"d":12.3},{"s":31.286,"r":18.25,"d":12.7},{"s":31.714,"r":18.25,"d":8.5},{"s":32,"r":18.25,"d":6},{"s":32.286,"r":18.25,"d":3.5},{"s":32.714,"r":18.25,"d":3},{"s":33,"r":18.25,"d":2.3},{"s":33.286,"r":18.25,"d":1.5},{"s":35.714,"r":18.25,"d":1},{"s":36,"r":18.25,"d":2},{"s":36.286,"r":18.25,"d":3},{"s":36.714,"r":18.25,"d":3.5},{"s":37,"r":18.25,"d":7.5},{"s":37.286,"r":18.25,"d":8.5},{"s":37.714,"r":18.25,"d":9},{"s":38,"r":18.25,"d":9.5},{"s":38.286,"r":18.25,"d":11},{"s":38.714,"r":18.25,"d":11},{"s":39,"r":18.25,"d":12.2},{"s":39.286,"r":18.25,"d":12.5},{"s":39.714,"r":18.25,"d":8.5},{"s":40,"r":18.25,"d":6},{"s":40.286,"r":18.25,"d":3.5},{"s":40.714,"r":18.25,"d":3},{"s":41,"r":18.25,"d":2.3},{"s":41.286,"r":18.25,"d":1.5},{"s":43.714,"r":18.25,"d":1},{"s":44,"r":18.25,"d":2},{"s":44.286,"r":18.25,"d":3},{"s":44.714,"r":18.25,"d":3.5},{"s":45,"r":18.25,"d":7.5},{"s":45.286,"r":18.25,"d":8.5},{"s":46.714,"r":18.25,"d":9},{"s":47,"r":18.25,"d":10.5},{"s":47.286,"r":18.25,"d":12}
],
"redLines":[{"s":6.5714,"r":-0.375,"r2":10.375},{"s":30.5714,"r":-0.375,"r2":10.375},{"s":54.5714,"r":-0.375,"r2":10.375},{"s":78.5714,"r":-0.375,"r2":10.375},{"s":6.5714,"r":15.875,"r2":18.625},{"s":14.5714,"r":15.875,"r2":18.625},{"s":22.5714,"r":15.875,"r2":18.625},{"s":30.5714,"r":15.875,"r2":18.625},{"s":38.5714,"r":15.875,"r2":18.625},{"s":46.5714,"r":15.875,"r2":18.625}],
"digits":[
{"s":0,"r":-2.06,"t":"1","c":"g"},{"s":1,"r":-2.06,"t":"1","c":"g"},{"s":2,"r":-2.06,"t":"1","c":"g"},{"s":3,"r":-2.06,"t":"2","c":"g"},{"s":4,"r":-2.06,"t":"2","c":"g"},{"s":5,"r":-2.06,"t":"2","c":"g"},{"s":6,"r":-2.06,"t":"2","c":"g"},{"s":17,"r":-2.06,"t":"1","c":"y"},{"s":18,"r":-2.06,"t":"1","c":"y"},{"s":19,"r":-2.06,"t":"1","c":"y"},{"s":20,"r":-2.06,"t":"1","c":"y"},{"s":21,"r":-2.06,"t":"1","c":"y"},{"s":22,"r":-2.06,"t":"1","c":"y"},{"s":23,"r":-2.06,"t":"1","c":"y"},{"s":24,"r":-2.06,"t":"1","c":"y"},{"s":25,"r":-2.06,"t":"1","c":"y"},{"s":26,"r":-2.06,"t":"1","c":"y"},{"s":27,"r":-2.06,"t":"2","c":"y"},{"s":28,"r":-2.06,"t":"2","c":"y"},{"s":29,"r":-2.06,"t":"2","c":"y"},{"s":30,"r":-2.06,"t":"2","c":"y"},{"s":41,"r":-2.06,"t":"1","c":"s"},{"s":42,"r":-2.06,"t":"1","c":"s"},{"s":43,"r":-2.06,"t":"1","c":"s"},{"s":44,"r":-2.06,"t":"1","c":"s"},{"s":45,"r":-2.06,"t":"1","c":"s"},{"s":46,"r":-2.06,"t":"1","c":"s"},{"s":47,"r":-2.06,"t":"1","c":"s"},{"s":48,"r":-2.06,"t":"1","c":"s"},{"s":49,"r":-2.06,"t":"1","c":"s"},{"s":50,"r":-2.06,"t":"1","c":"s"},{"s":51,"r":-2.06,"t":"2","c":"s"},{"s":52,"r":-2.06,"t":"2","c":"s"},{"s":53,"r":-2.06,"t":"2","c":"s"},{"s":54,"r":-2.06,"t":"2","c":"s"},{"s":65,"r":-2.06,"t":"1","c":"m"},{"s":66,"r":-2.06,"t":"1","c":"m"},{"s":67,"r":-2.06,"t":"1","c":"m"},{"s":68,"r":-2.06,"t":"1","c":"m"},{"s":69,"r":-2.06,"t":"1","c":"m"},{"s":70,"r":-2.06,"t":"1","c":"m"},{"s":71,"r":-2.06,"t":"1","c":"m"},{"s":72,"r":-2.06,"t":"1","c":"m"},{"s":73,"r":-2.06,"t":"1","c":"m"},{"s":74,"r":-2.06,"t":"1","c":"m"},{"s":75,"r":-2.06,"t":"2","c":"m"},{"s":76,"r":-2.06,"t":"2","c":"m"},{"s":77,"r":-2.06,"t":"2","c":"m"},{"s":78,"r":-2.06,"t":"2","c":"m"},
{"s":0,"r":-1.125,"t":"7","c":"g"},{"s":1,"r":-1.125,"t":"8","c":"g"},{"s":2,"r":-1.125,"t":"9","c":"g"},{"s":3,"r":-1.125,"t":"0","c":"g"},{"s":4,"r":-1.125,"t":"1","c":"g"},{"s":5,"r":-1.125,"t":"2","c":"g"},{"s":6,"r":-1.125,"t":"3","c":"g"},{"s":7,"r":-1.125,"t":"0","c":"y"},{"s":8,"r":-1.125,"t":"1","c":"y"},{"s":9,"r":-1.125,"t":"2","c":"y"},{"s":10,"r":-1.125,"t":"3","c":"y"},{"s":11,"r":-1.125,"t":"4","c":"y"},{"s":12,"r":-1.125,"t":"5","c":"y"},{"s":13,"r":-1.125,"t":"6","c":"y"},{"s":14,"r":-1.125,"t":"7","c":"y"},{"s":15,"r":-1.125,"t":"8","c":"y"},{"s":16,"r":-1.125,"t":"9","c":"y"},{"s":17,"r":-1.125,"t":"0","c":"y"},{"s":18,"r":-1.125,"t":"1","c":"y"},{"s":19,"r":-1.125,"t":"2","c":"y"},{"s":20,"r":-1.125,"t":"3","c":"y"},{"s":21,"r":-1.125,"t":"4","c":"y"},{"s":22,"r":-1.125,"t":"5","c":"y"},{"s":23,"r":-1.125,"t":"6","c":"y"},{"s":24,"r":-1.125,"t":"7","c":"y"},{"s":25,"r":-1.125,"t":"8","c":"y"},{"s":26,"r":-1.125,"t":"9","c":"y"},{"s":27,"r":-1.125,"t":"0","c":"y"},{"s":28,"r":-1.125,"t":"1","c":"y"},{"s":29,"r":-1.125,"t":"2","c":"y"},{"s":30,"r":-1.125,"t":"3","c":"y"},{"s":31,"r":-1.125,"t":"0","c":"s"},{"s":32,"r":-1.125,"t":"1","c":"s"},{"s":33,"r":-1.125,"t":"2","c":"s"},{"s":34,"r":-1.125,"t":"3","c":"s"},{"s":35,"r":-1.125,"t":"4","c":"s"},{"s":36,"r":-1.125,"t":"5","c":"s"},{"s":37,"r":-1.125,"t":"6","c":"s"},{"s":38,"r":-1.125,"t":"7","c":"s"},{"s":39,"r":-1.125,"t":"8","c":"s"},{"s":40,"r":-1.125,"t":"9","c":"s"},{"s":41,"r":-1.125,"t":"0","c":"s"},{"s":42,"r":-1.125,"t":"1","c":"s"},{"s":43,"r":-1.125,"t":"2","c":"s"},{"s":44,"r":-1.125,"t":"3","c":"s"},{"s":45,"r":-1.125,"t":"4","c":"s"},{"s":46,"r":-1.125,"t":"5","c":"s"},{"s":47,"r":-1.125,"t":"6","c":"s"},{"s":48,"r":-1.125,"t":"7","c":"s"},{"s":49,"r":-1.125,"t":"8","c":"s"},{"s":50,"r":-1.125,"t":"9","c":"s"},{"s":51,"r":-1.125,"t":"0","c":"s"},{"s":52,"r":-1.125,"t":"1","c":"s"},{"s":53,"r":-1.125,"t":"2","c":"s"},{"s":54,"r":-1.125,"t":"3","c":"s"},{"s":55,"r":-1.125,"t":"0","c":"m"},{"s":56,"r":-1.125,"t":"1","c":"m"},{"s":57,"r":-1.125,"t":"2","c":"m"},{"s":58,"r":-1.125,"t":"3","c":"m"},{"s":59,"r":-1.125,"t":"4","c":"m"},{"s":60,"r":-1.125,"t":"5","c":"m"},{"s":61,"r":-1.125,"t":"6","c":"m"},{"s":62,"r":-1.125,"t":"7","c":"m"},{"s":63,"r":-1.125,"t":"8","c":"m"},{"s":64,"r":-1.125,"t":"9","c":"m"},{"s":65,"r":-1.125,"t":"0","c":"m"},{"s":66,"r":-1.125,"t":"1","c":"m"},{"s":67,"r":-1.125,"t":"2","c":"m"},{"s":68,"r":-1.125,"t":"3","c":"m"},{"s":69,"r":-1.125,"t":"4","c":"m"},{"s":70,"r":-1.125,"t":"5","c":"m"},{"s":71,"r":-1.125,"t":"6","c":"m"},{"s":72,"r":-1.125,"t":"7","c":"m"},{"s":73,"r":-1.125,"t":"8","c":"m"},{"s":74,"r":-1.125,"t":"9","c":"m"},{"s":75,"r":-1.125,"t":"0","c":"m"},{"s":76,"r":-1.125,"t":"1","c":"m"},{"s":77,"r":-1.125,"t":"2","c":"m"},{"s":78,"r":-1.125,"t":"3","c":"m"},{"s":79,"r":-1.125,"t":"0","c":"b"},{"s":80,"r":-1.125,"t":"1","c":"b"},{"s":81,"r":-1.125,"t":"2","c":"b"},
{"s":2,"r":14.19,"t":"1","c":"b"},{"s":3,"r":14.19,"t":"1","c":"b"},{"s":4,"r":14.19,"t":"1","c":"b"},{"s":5,"r":14.19,"t":"2","c":"b"},{"s":6,"r":14.19,"t":"2","c":"b"},{"s":10,"r":14.19,"t":"1","c":"g"},{"s":11,"r":14.19,"t":"1","c":"g"},{"s":12,"r":14.19,"t":"1","c":"g"},{"s":13,"r":14.19,"t":"2","c":"g"},{"s":14,"r":14.19,"t":"2","c":"g"},{"s":18,"r":14.19,"t":"1","c":"y"},{"s":19,"r":14.19,"t":"1","c":"y"},{"s":20,"r":14.19,"t":"1","c":"y"},{"s":21,"r":14.19,"t":"2","c":"y"},{"s":22,"r":14.19,"t":"2","c":"y"},{"s":26,"r":14.19,"t":"1","c":"s"},{"s":27,"r":14.19,"t":"1","c":"s"},{"s":28,"r":14.19,"t":"1","c":"s"},{"s":29,"r":14.19,"t":"2","c":"s"},{"s":30,"r":14.19,"t":"2","c":"s"},{"s":34,"r":14.19,"t":"1","c":"m"},{"s":35,"r":14.19,"t":"1","c":"m"},{"s":36,"r":14.19,"t":"1","c":"m"},{"s":37,"r":14.19,"t":"2","c":"m"},{"s":38,"r":14.19,"t":"2","c":"m"},{"s":42,"r":14.19,"t":"1","c":"b"},{"s":43,"r":14.19,"t":"1","c":"b"},{"s":44,"r":14.19,"t":"1","c":"b"},{"s":45,"r":14.19,"t":"2","c":"b"},{"s":46,"r":14.19,"t":"2","c":"b"},
{"s":0,"r":15.125,"t":"5","c":"b"},{"s":1,"r":15.125,"t":"8","c":"b"},{"s":2,"r":15.125,"t":"1","c":"b"},{"s":3,"r":15.125,"t":"4","c":"b"},{"s":4,"r":15.125,"t":"7","c":"b"},{"s":5,"r":15.125,"t":"0","c":"b"},{"s":6,"r":15.125,"t":"3","c":"b"},{"s":7,"r":15.125,"t":"2","c":"g"},{"s":8,"r":15.125,"t":"5","c":"g"},{"s":9,"r":15.125,"t":"8","c":"g"},{"s":10,"r":15.125,"t":"1","c":"g"},{"s":11,"r":15.125,"t":"4","c":"g"},{"s":12,"r":15.125,"t":"7","c":"g"},{"s":13,"r":15.125,"t":"0","c":"g"},{"s":14,"r":15.125,"t":"3","c":"g"},{"s":15,"r":15.125,"t":"2","c":"y"},{"s":16,"r":15.125,"t":"5","c":"y"},{"s":17,"r":15.125,"t":"8","c":"y"},{"s":18,"r":15.125,"t":"1","c":"y"},{"s":19,"r":15.125,"t":"4","c":"y"},{"s":20,"r":15.125,"t":"7","c":"y"},{"s":21,"r":15.125,"t":"0","c":"y"},{"s":22,"r":15.125,"t":"3","c":"y"},{"s":23,"r":15.125,"t":"2","c":"s"},{"s":24,"r":15.125,"t":"5","c":"s"},{"s":25,"r":15.125,"t":"8","c":"s"},{"s":26,"r":15.125,"t":"1","c":"s"},{"s":27,"r":15.125,"t":"4","c":"s"},{"s":28,"r":15.125,"t":"7","c":"s"},{"s":29,"r":15.125,"t":"0","c":"s"},{"s":30,"r":15.125,"t":"3","c":"s"},{"s":31,"r":15.125,"t":"2","c":"m"},{"s":32,"r":15.125,"t":"5","c":"m"},{"s":33,"r":15.125,"t":"8","c":"m"},{"s":34,"r":15.125,"t":"1","c":"m"},{"s":35,"r":15.125,"t":"4","c":"m"},{"s":36,"r":15.125,"t":"7","c":"m"},{"s":37,"r":15.125,"t":"0","c":"m"},{"s":38,"r":15.125,"t":"3","c":"m"},{"s":39,"r":15.125,"t":"2","c":"b"},{"s":40,"r":15.125,"t":"5","c":"b"},{"s":41,"r":15.125,"t":"8","c":"b"},{"s":42,"r":15.125,"t":"1","c":"b"},{"s":43,"r":15.125,"t":"4","c":"b"},{"s":44,"r":15.125,"t":"7","c":"b"},{"s":45,"r":15.125,"t":"0","c":"b"},{"s":46,"r":15.125,"t":"3","c":"b"},{"s":47,"r":15.125,"t":"2","c":"g"}
],
"labels":[{"s":-9.857,"r":-3,"t":"2026-07-18","c":"g"},{"s":-9.857,"r":-2.06,"t":"Local Time","c":"o"},{"s":-0.36,"r":-3,"t":"Sat","c":"g"},{"s":16.57,"r":-3,"t":"Sunday, 19","c":"y"},{"s":40.57,"r":-3,"t":"Monday, 20","c":"s"},{"s":64.57,"r":-3,"t":"Tuesday, 21","c":"m"},{"s":78.57,"r":-3,"t":"Wed","c":"b"},{"s":-9,"r":-0.125,"t":"Cloud Cover:","c":"w"},{"s":-9,"r":0.875,"t":"ECMWF Cloud:","c":"w"},{"s":-9,"r":1.875,"t":"Transparency:","c":"w"},{"s":-9,"r":2.875,"t":"Seeing:","c":"w"},{"s":-9,"r":3.875,"t":"Darkness:","c":"d"},{"s":-9,"r":6.875,"t":"Smoke:","c":"w"},{"s":-9,"r":7.875,"t":"Wind:","c":"w"},{"s":-9,"r":8.875,"t":"Humidity:","c":"w"},{"s":-9,"r":9.875,"t":"Temperature:","c":"w"},{"s":-9.93,"r":12.06,"t":"EXTENDED Forecast. Each block is 3 hours. (A sponsored feature)","c":"r"},{"s":-9.857,"r":13.25,"t":"2026-07-22","c":"b"},{"s":-9.857,"r":14.19,"t":"Local Time","c":"o"},{"s":1.21,"r":13.25,"t":"Wed, 22","c":"b"},{"s":9.25,"r":13.25,"t":"Thu, 23","c":"g"},{"s":17.25,"r":13.25,"t":"Fri, 24","c":"y"},{"s":25.25,"r":13.25,"t":"Sat, 25","c":"s"},{"s":33.25,"r":13.25,"t":"Sun, 26","c":"m"},{"s":41.25,"r":13.25,"t":"Mon, 27","c":"b"},{"s":-9,"r":16.125,"t":"Cloud Cover:","c":"w"},{"s":-9,"r":17.125,"t":"ECMWF Cloud:","c":"w"},{"s":-9,"r":18.125,"t":"Darkness:","c":"d"},{"s":14.43,"r":20.8,"t":"© 2026 Attilla Danko\u00a0\u00a0forecast: A.Rahill\u00a0\u00a0data:","c":"w"}],
"heads":[{"s":16.14,"r":-4.5,"t":"Warbler's Hideaway Observatory","c":"y"},{"s":42.71,"r":-4.5,"t":"Clear Sky Chart","c":"t"}],
"small":[{"s":-9.79,"r":-1.31,"t":"(GMT -4+0)"},{"s":-9.79,"r":14.94,"t":"(GMT -4+0)"}],
"side":[{"s":-9.571,"r":2.03,"t":"- - Sky - -","c":"y"},{"s":-9.571,"r":8.5,"t":"- Ground -","c":"w"},{"s":-9.571,"r":17.28,"t":"- Sky -","c":"y"}],
"logoText":[{"s":48.29,"r":20.56,"t":"Environment"},{"s":48.29,"r":21.06,"t":"Canada"},{"s":52.93,"r":20.56,"t":"Environnement"},{"s":52.93,"r":21.06,"t":"Canada"}],
"leaf":[{"s":46.33,"r":20.83}]
},
"encoding":{"x":{"field":"s","type":"quantitative","axis":null,"scale":{"domain":[-10,81.7143],"nice":false,"zero":false}},"y":{"field":"r","type":"quantitative","axis":null,"scale":{"domain":[-5.1875,21.3125],"nice":false,"zero":false,"reverse":true}}},
"layer":[
{"data":{"name":"panels"},"mark":{"type":"rect"},"encoding":{"x":{"field":"a","type":"quantitative"},"x2":{"field":"b"},"y":{"field":"r","type":"quantitative"},"y2":{"field":"r2"},"color":{"field":"c","type":"nominal","legend":null,"scale":{"domain":["sky","ground","grey","paper","flag"],"range":["#0060f0","#556b00","#808080","#ffffff","#ff0000"]}}}},
{"data":{"name":"links"},"mark":{"type":"rect","height":8},"encoding":{"x":{"field":"a","type":"quantitative"},"x2":{"field":"b"},"color":{"field":"v","type":"nominal","legend":null,"scale":{"domain":["A","B","C","D","E","F","G","H","I","J","K","L"],"range":["#003f7f","#135596","#2a6bab","#4a8acb","#5f9fe2","#77b5f7","#99d9d9","#a9e9e9","#bbffff","#c4c4c4","#ececec","#fbfbfb"]}}}},
{"data":{"name":"blocks"},"mark":{"type":"rect","width":12,"height":12},"encoding":{"color":{"field":"v","type":"nominal","legend":null,"scale":{"domain":["A","B","C","D","E","F","G","H","I","J","K","L","yl","gd","or","ro","r1","r2","dr","lg","mg","cy","gt","t0","t1","t2","t3"],"range":["#003f7f","#135596","#2a6bab","#4a8acb","#5f9fe2","#77b5f7","#99d9d9","#a9e9e9","#bbffff","#c4c4c4","#ececec","#fbfbfb","#e8ff10","#ffc800","#ff8800","#ff3800","#ee0000","#e00000","#b80000","#98ff68","#58ffb0","#00ffee","#88c0c0","#ff2000","#ff5c00","#ffa000","#ffe000"]}}}},
{"data":{"name":"darkFlat"},"mark":{"type":"rect","width":12,"height":12},"encoding":{"color":{"field":"d","type":"quantitative","legend":null,"scale":{"domain":[0,1,2,3,4,5,6,7,8,9,10,11,12,13],"range":["#ffffff","#fff8f0","#ffefdc","#ffe2bc","#f9c070","#f5a020","#30d0a0","#00b0ff","#0060e0","#0045c8","#0030b0","#001090","#000070","#000058"]}}}},
{"data":{"name":"darkSlice"},"mark":{"type":"rect","width":4,"height":12},"encoding":{"color":{"field":"d","type":"quantitative","legend":null,"scale":{"domain":[0,1,2,3,4,5,6,7,8,9,10,11,12,13],"range":["#ffffff","#fff8f0","#ffefdc","#ffe2bc","#f9c070","#f5a020","#30d0a0","#00b0ff","#0060e0","#0045c8","#0030b0","#001090","#000070","#000058"]}}}},
{"data":{"name":"redLines"},"mark":{"type":"rule","color":"#ff0000","strokeWidth":2},"encoding":{"y2":{"field":"r2"}}},
{"data":{"name":"digits"},"mark":{"type":"text","font":"Liberation Mono","fontSize":15,"align":"center","baseline":"middle"},"encoding":{"text":{"field":"t","type":"nominal"},"color":{"field":"c","type":"nominal","legend":null,"scale":{"domain":["g","y","s","m","b"],"range":["#66ee77","#ffff22","#ff7777","#ff00ff","#6a6aff"]}}}},
{"data":{"name":"labels"},"mark":{"type":"text","font":"Liberation Mono","fontSize":15,"align":"left","baseline":"middle"},"encoding":{"text":{"field":"t","type":"nominal"},"color":{"field":"c","type":"nominal","legend":null,"scale":{"domain":["g","y","s","m","b","o","w","d","r"],"range":["#66ee77","#ffff22","#ff7777","#ff00ff","#6a6aff","#c8c800","#ffffff","#2a60d8","#ff0000"]}}}},
{"data":{"name":"heads"},"mark":{"type":"text","font":"DejaVu Sans Mono","fontSize":20,"fontWeight":"bold","align":"left","baseline":"middle"},"encoding":{"text":{"field":"t","type":"nominal"},"color":{"field":"c","type":"nominal","legend":null,"scale":{"domain":["y","t"],"range":["#ffff00","#00cccc"]}}}},
{"data":{"name":"small"},"mark":{"type":"text","font":"DejaVu Sans Mono","fontSize":8,"fontWeight":"bold","align":"left","baseline":"middle","color":"#e8e800"},"encoding":{"text":{"field":"t","type":"nominal"}}},
{"data":{"name":"side"},"mark":{"type":"text","font":"DejaVu Sans Mono","fontSize":10,"align":"center","baseline":"middle","angle":270},"encoding":{"text":{"field":"t","type":"nominal"},"color":{"field":"c","type":"nominal","legend":null,"scale":{"domain":["y","w"],"range":["#ffff00","#ffffff"]}}}},
{"data":{"name":"logoText"},"mark":{"type":"text","font":"DejaVu Sans","fontSize":8,"align":"left","baseline":"middle","color":"#000000"},"encoding":{"text":{"field":"t","type":"nominal"}}},
{"data":{"name":"leaf"},"mark":{"type":"point","filled":true,"opacity":1,"color":"#ff0000","size":50,"shape":"M0,-1L.2,-.55L.5,-.65L.4,-.1L.8,0L.5,.4L.1,.3V.9H-.1V.3L-.5,.4L-.8,0L-.4,-.1L-.5,-.65L-.2,-.55Z"}}
],
"resolve":{"scale":{"color":"independent"}}}
